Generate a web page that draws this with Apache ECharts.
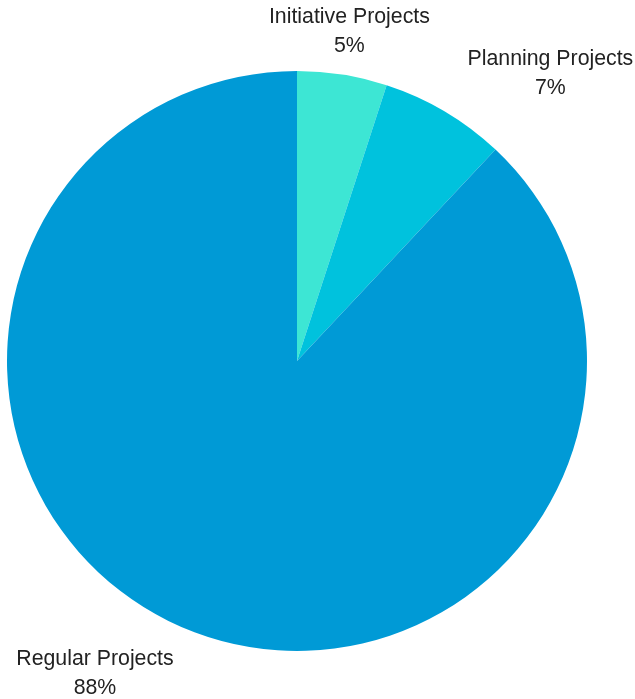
<!DOCTYPE html>
<html><head><meta charset="utf-8">
<script src="https://cdn.jsdelivr.net/npm/echarts@6/dist/echarts.min.js"></script>
<style>html,body{margin:0;padding:0;background:#fff}#c{width:635px;height:699px}</style>
</head><body><div id="c"></div>
<script>
const categories = ['Initiative Projects', 'Planning Projects', 'Regular Projects'];
const values = [5, 7, 88];
const colors = ['#3de6d4', '#00c2dd', '#009ad6'];

// mid-angle of each slice (degrees clockwise from top), used to align labels
const total = values.reduce((a, b) => a + b, 0);
let acc = 0;
const midAngles = values.map(v => { const m = (acc + v / 2) / total * 360; acc += v; return m; });

const chart = echarts.init(document.getElementById('c'), null, {renderer: 'canvas'});
chart.setOption({
  animation: false,
  series: [{
    type: 'pie',
    center: [297, 361],
    radius: [0, 290],
    startAngle: 90,
    clockwise: true,
    bleedMargin: 0,
    avoidLabelOverlap: false,
    data: categories.map((n, i) => ({name: n, value: values[i], itemStyle: {color: colors[i]}})),
    label: {
      show: true,
      position: 'outside',
      formatter: '{t|{b}}\n{t|{d}%}',
      overflow: 'none',
      rich: {
        t: {
          fontFamily: 'Liberation Sans, Arial, sans-serif',
          fontSize: 21.3,
          lineHeight: 29,
          color: '#222',
          align: 'center'
        }
      }
    },
    labelLine: {show: false, length: 45, length2: 0},
    labelLayout: function (p) {
      const m = midAngles[p.dataIndex];
      const a = m % 180;
      const rightSide = m < 180;
      // remove the default 5px text gap so labels sit at the leader end
      let dx = rightSide ? -5 : 5;
      if (a < 15 || a > 165) {
        dx += -p.labelRect.width / 2;
      }
      return {dx: dx, dy: 1};
    },
    emphasis: {disabled: true}
  }]
});
</script></body></html>
